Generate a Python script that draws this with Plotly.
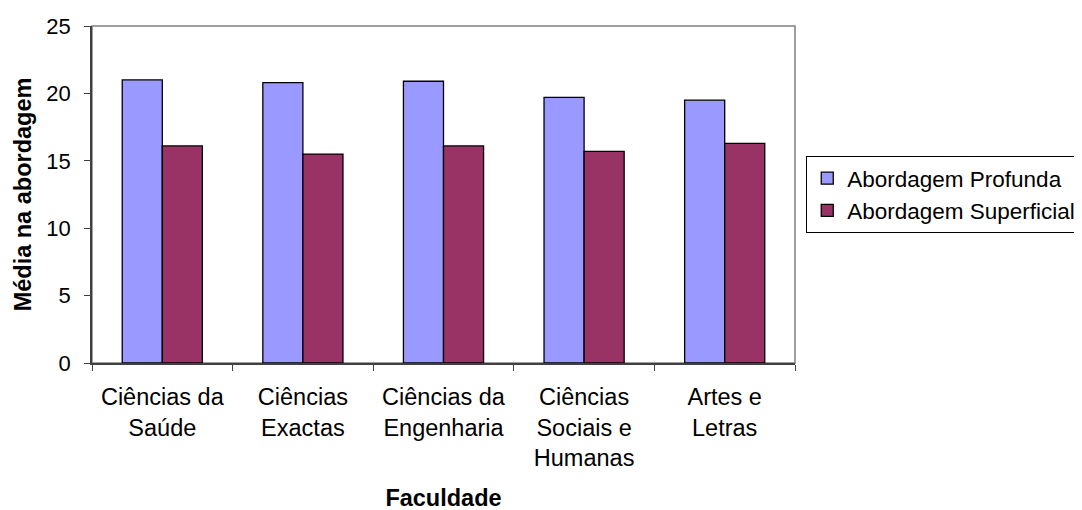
import plotly.graph_objects as go

# dados
faculdades = [
    "Ciências da<br>Saúde",
    "Ciências<br>Exactas",
    "Ciências da<br>Engenharia",
    "Ciências<br>Sociais e<br>Humanas",
    "Artes e<br>Letras",
]
profunda = [21.0, 20.8, 20.9, 19.7, 19.5]
superficial = [16.1, 15.5, 16.1, 15.7, 16.3]
y_ticks = [0, 5, 10, 15, 20, 25]

FONT = "Liberation Sans, Arial, sans-serif"

fig = go.Figure()
fig.add_trace(go.Bar(
    name="Abordagem Profunda",
    x=faculdades, y=profunda,
    marker=dict(color="#9999FF", line=dict(color="black", width=1.3)),
))
fig.add_trace(go.Bar(
    name="Abordagem Superficial",
    x=faculdades, y=superficial,
    marker=dict(color="#993366", line=dict(color="black", width=1.3)),
))

# moldura cinzenta da área do gráfico (topo e direita)
fig.add_shape(type="rect", xref="paper", yref="paper", x0=0, y0=0, x1=1, y1=1,
              line=dict(color="#808080", width=1.5), layer="below")

# a página tem 8px de margem no body; a figura é mais larga que a janela
# para que a legenda fique cortada à direita como no original
fig.update_layout(
    width=1100, height=510,
    margin=dict(l=84, r=313, t=18, b=155),
    barmode="group", bargap=0.43, bargroupgap=0,
    plot_bgcolor="white", paper_bgcolor="white",
    font=dict(family=FONT, size=22, color="black"),
    showlegend=True,
    legend=dict(
        x=1.016, y=0.614, xanchor="left", yanchor="top",
        bordercolor="black", borderwidth=1,
        font=dict(size=22.5), itemwidth=30,
    ),
    xaxis=dict(
        tickson="boundaries", ticks="outside", ticklen=6, tickcolor="#404040",
        showline=True, linecolor="#404040", linewidth=1.5, automargin=False,
        tickfont=dict(size=23.5), ticklabelstandoff=12,
        title=dict(text="<b>Faculdade</b>", font=dict(size=23.5), standoff=20),
    ),
    yaxis=dict(
        range=[0, 25], tickvals=y_ticks, ticks="outside", ticklen=6,
        tickcolor="#404040", showline=True, linecolor="#404040", linewidth=1.5,
        showgrid=False, zeroline=False, tickfont=dict(size=22), automargin=False,
        ticklabelstandoff=9,
        title=dict(text="<b>Média na abordagem</b>", font=dict(size=23.5), standoff=8),
    ),
)

fig.write_html("out.html")
